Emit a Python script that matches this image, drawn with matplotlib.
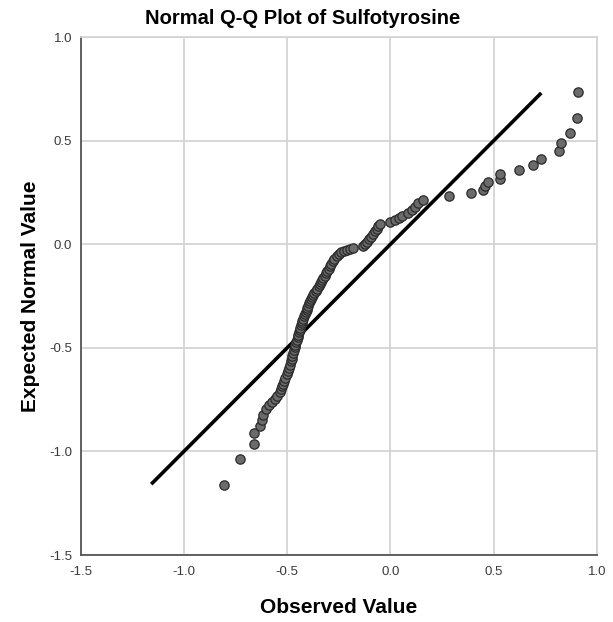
import matplotlib
matplotlib.use("Agg")
import matplotlib.pyplot as plt

plt.rcParams['font.family'] = ['Liberation Sans', 'DejaVu Sans']

title = "Normal Q-Q Plot of Sulfotyrosine"
x_label = "Observed Value"
y_label = "Expected Normal Value"

observed = [
    -0.808, -0.728, -0.661, -0.661, -0.632, -0.624, -0.616, -0.603, -0.588, -0.573,
    -0.560, -0.547, -0.536, -0.530, -0.525, -0.521, -0.517,
    -0.510, -0.503, -0.496, -0.489, -0.485, -0.481, -0.478, -0.475, -0.471, -0.468,
    -0.464, -0.460, -0.456, -0.453, -0.449, -0.446, -0.442, -0.439, -0.436, -0.432,
    -0.429, -0.426, -0.422, -0.419, -0.415, -0.411, -0.406, -0.402, -0.397, -0.393,
    -0.388, -0.385, -0.381, -0.375, -0.369, -0.362, -0.354, -0.348, -0.343, -0.337,
    -0.331, -0.325, -0.319, -0.313, -0.307, -0.300, -0.293, -0.287, -0.279, -0.271,
    -0.261, -0.250, -0.238, -0.224, -0.210, -0.196, -0.180,
    -0.132, -0.122, -0.112, -0.102, -0.092, -0.083, -0.075, -0.067, -0.058, -0.049,
    -0.001, 0.020, 0.039, 0.055, 0.087, 0.103, 0.119, 0.135, 0.156, 0.284,
    0.389, 0.447, 0.458, 0.471, 0.531, 0.531, 0.622, 0.691, 0.731, 0.817,
    0.827, 0.870, 0.902, 0.907,
]
expected = [
    -1.164, -1.036, -0.963, -0.912, -0.875, -0.848, -0.824, -0.795, -0.778, -0.763,
    -0.747, -0.731, -0.715, -0.700, -0.686, -0.673, -0.660,
    -0.645, -0.628, -0.612, -0.596, -0.581, -0.566, -0.552, -0.538, -0.524, -0.511,
    -0.498, -0.485, -0.473, -0.461, -0.449, -0.437, -0.425, -0.414, -0.403, -0.392,
    -0.381, -0.370, -0.359, -0.348, -0.338, -0.327, -0.317, -0.306, -0.296, -0.286,
    -0.275, -0.265, -0.255, -0.245, -0.235, -0.225, -0.214, -0.204, -0.194, -0.183,
    -0.173, -0.162, -0.152, -0.141, -0.130, -0.119, -0.107, -0.095, -0.083, -0.070,
    -0.057, -0.046, -0.038, -0.031, -0.026, -0.022, -0.019,
    -0.008, 0.002, 0.013, 0.025, 0.037, 0.050, 0.062, 0.074, 0.087, 0.099,
    0.108, 0.117, 0.125, 0.134, 0.150, 0.165, 0.179, 0.197, 0.213, 0.232,
    0.245, 0.261, 0.282, 0.298, 0.317, 0.341, 0.360, 0.384, 0.413, 0.448,
    0.488, 0.536, 0.609, 0.736,
]

line_x = [-1.158, 0.730]
line_y = [-1.158, 0.730]

x_ticks = [-1.5, -1.0, -0.5, 0.0, 0.5, 1.0]
y_ticks = [-1.5, -1.0, -0.5, 0.0, 0.5, 1.0]

fig = plt.figure(figsize=(6.13, 6.22), dpi=100)
ax = fig.add_axes([0.1315, 0.1077, 0.8425, 0.8328])

ax.set_xlim(-1.5, 1.0)
ax.set_ylim(-1.5, 1.0)
ax.set_xticks(x_ticks)
ax.set_yticks(y_ticks)
ax.set_xticklabels([f"{v:.1f}" for v in x_ticks])
ax.set_yticklabels([f"{v:.1f}" for v in y_ticks])
ax.tick_params(length=0, labelsize=9.5, colors='#3a3a3a')
ax.tick_params(axis='x', pad=8)
ax.tick_params(axis='y', pad=6)

ax.grid(True, color='#d4d4d4', linewidth=1.3)
ax.set_axisbelow(True)
for side in ['top', 'right']:
    ax.spines[side].set_color('#d4d4d4')
    ax.spines[side].set_linewidth(1.3)
for side in ['left', 'bottom']:
    ax.spines[side].set_color('#555555')
    ax.spines[side].set_linewidth(1.3)

ax.plot(line_x, line_y, color='black', linewidth=2.6, solid_capstyle='butt', zorder=2)
ax.scatter(observed, expected, s=45, facecolor='#6b6b6b', edgecolor='#2a2a2a',
           linewidth=0.9, zorder=3)

fig.text(0.493, 0.971, title, fontsize=14.5, fontweight='bold', ha='center', va='center')
ax.set_xlabel(x_label, fontsize=15, fontweight='bold', labelpad=14)
ax.set_ylabel(y_label, fontsize=15, fontweight='bold', labelpad=7)

fig.savefig("out.png", dpi=100)
